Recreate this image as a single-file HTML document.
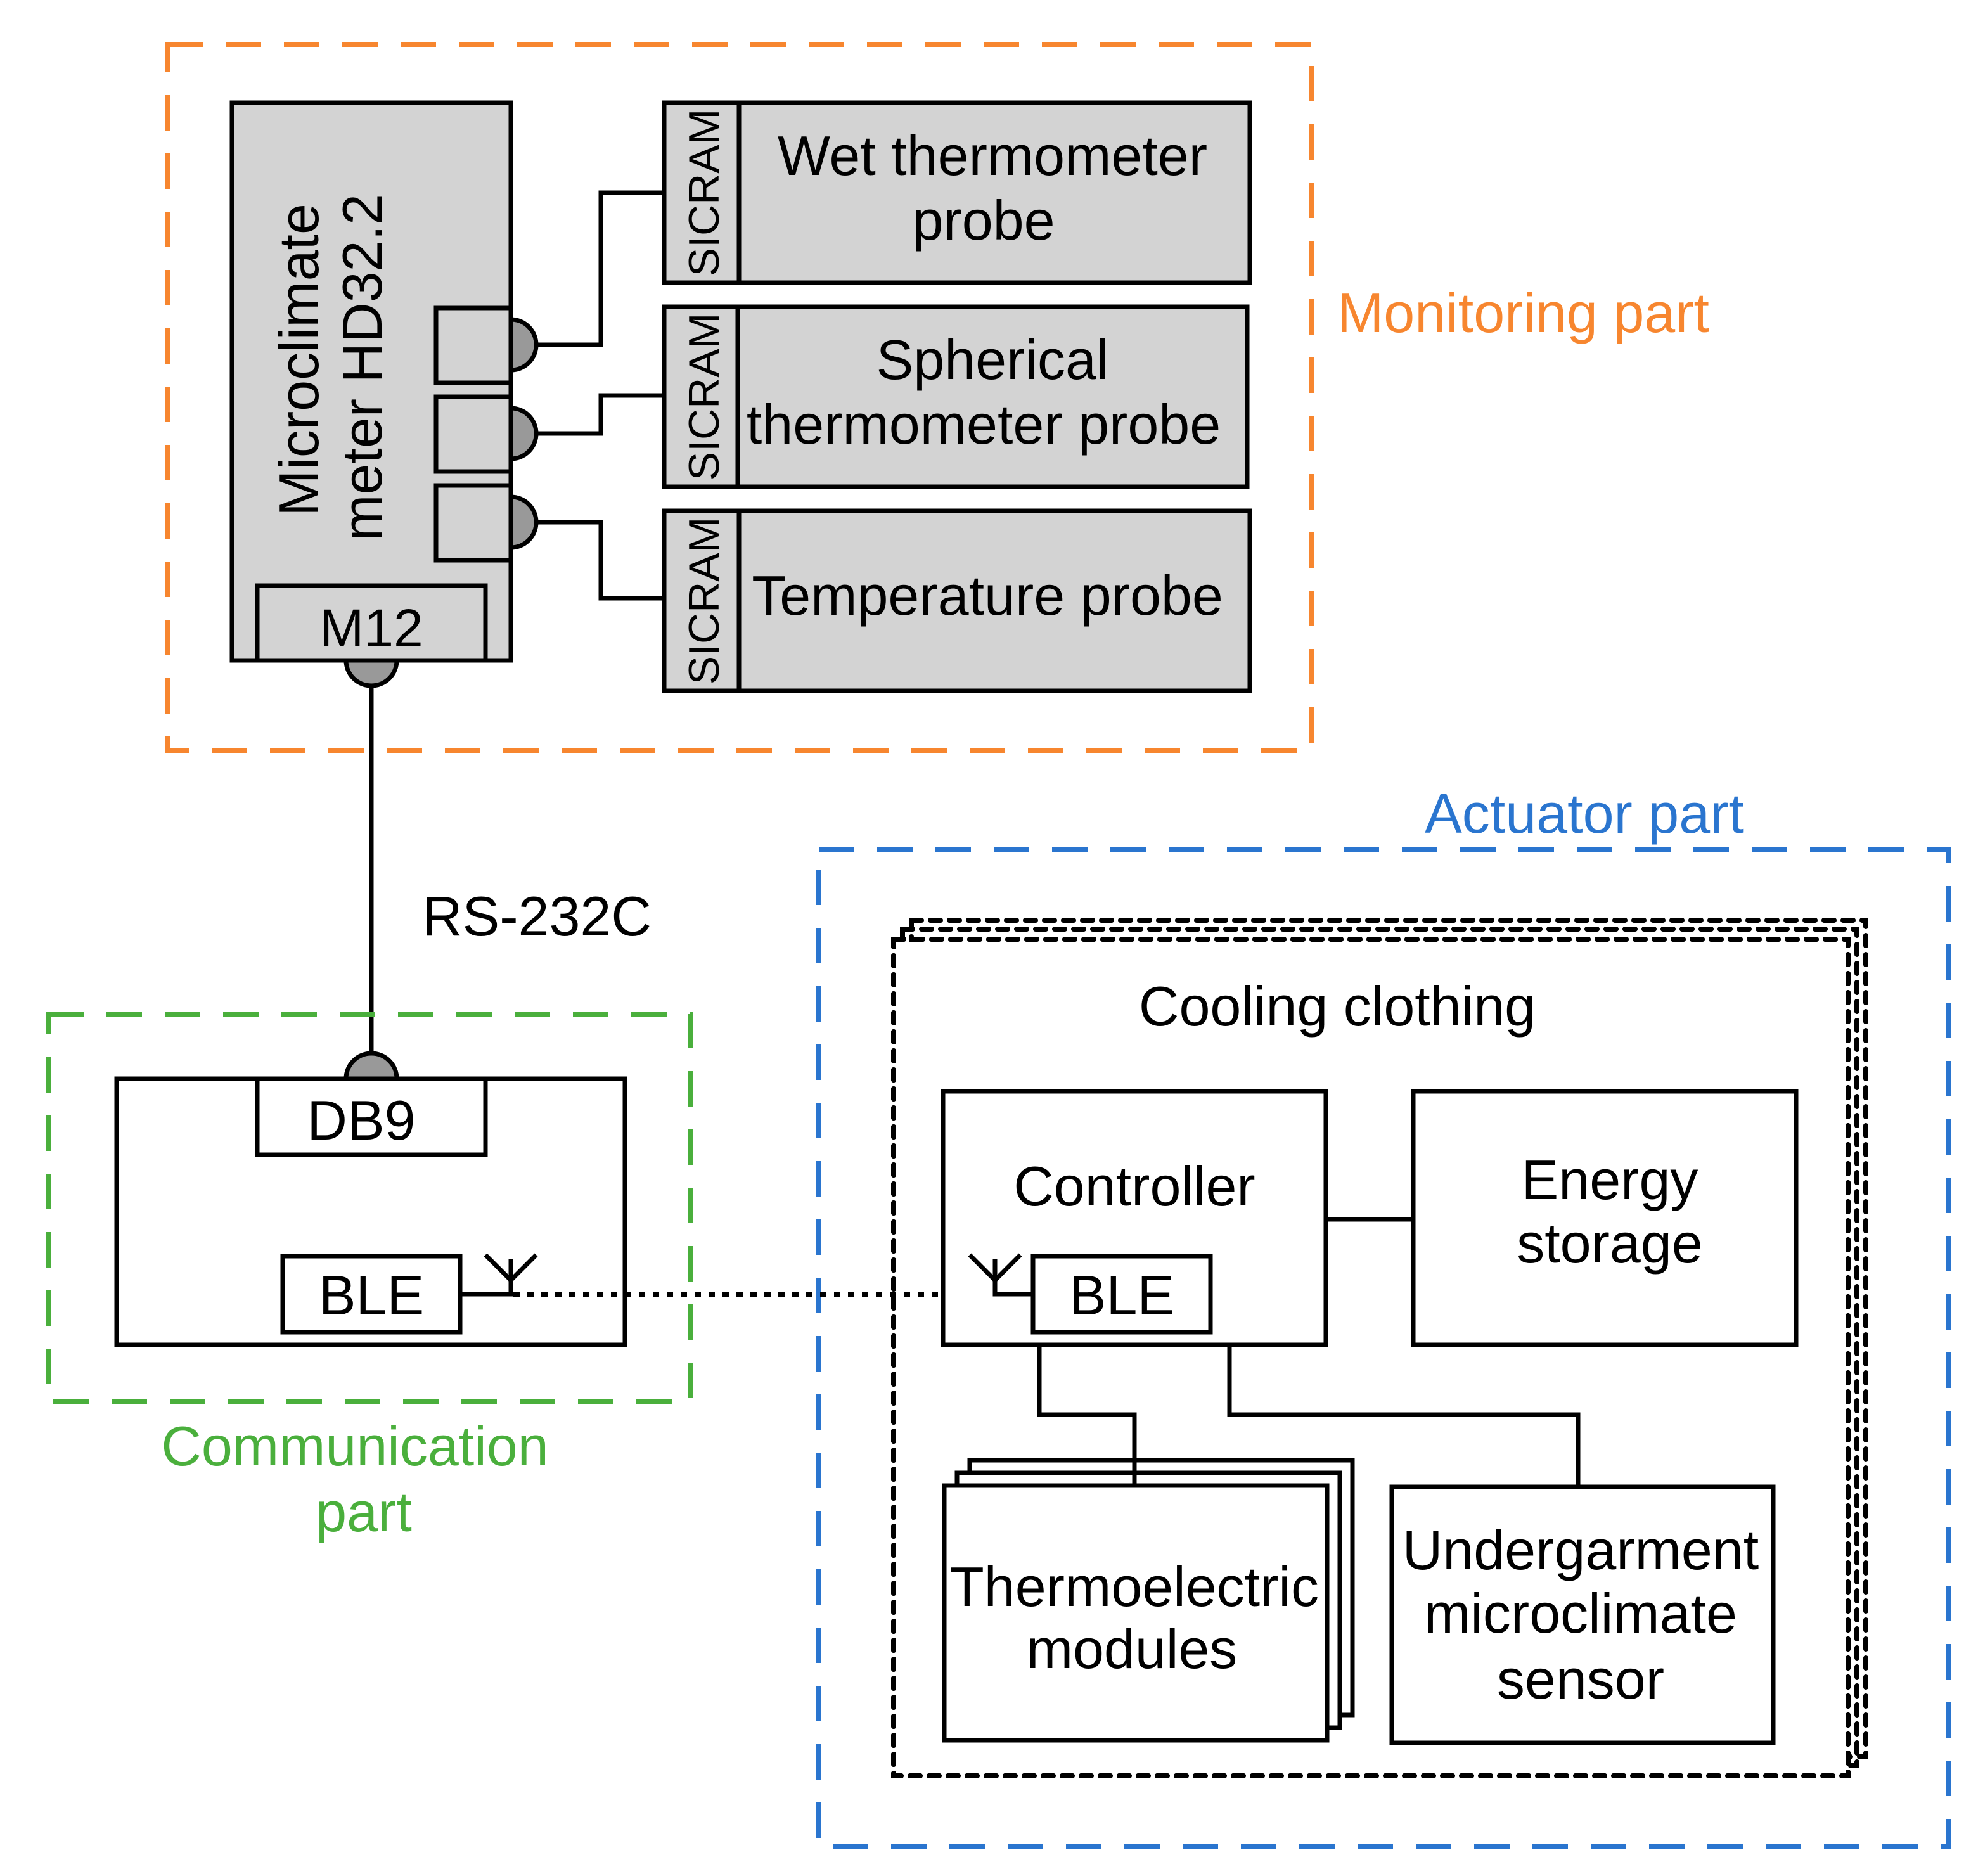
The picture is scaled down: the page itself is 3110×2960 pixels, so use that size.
<!DOCTYPE html>
<html><head><meta charset="utf-8"><style>html,body{margin:0;padding:0;background:#fff}svg{display:block}</style></head>
<body>
<svg width="3110" height="2960" viewBox="0 0 1555 1480" xmlns="http://www.w3.org/2000/svg" font-family="Liberation Sans, Arial, sans-serif">
<rect width="1555" height="1480" fill="#fff"/>
<!-- Monitoring -->
<rect x="132" y="35" width="903" height="557" fill="none" stroke="#F7862F" stroke-width="4" stroke-dasharray="28 18"/>
<text x="1055" y="262" font-size="44" fill="#F7862F">Monitoring part</text>
<g stroke="#000" stroke-width="3.5">
<rect x="183" y="81" width="220" height="440" fill="#d3d3d3"/>
<rect x="344" y="243" width="59" height="59" fill="#d3d3d3"/>
<rect x="344" y="313" width="59" height="59" fill="#d3d3d3"/>
<rect x="344" y="383" width="59" height="59" fill="#d3d3d3"/>
<path d="M403 252 A20 20 0 0 1 403 292Z" fill="#999"/>
<path d="M403 322 A20 20 0 0 1 403 362Z" fill="#999"/>
<path d="M403 392 A20 20 0 0 1 403 432Z" fill="#999"/>
<rect x="203" y="462" width="180" height="59" fill="#d3d3d3"/>
<path d="M273 521 A20 20 0 0 0 313 521Z" fill="#999"/>
<polyline points="423,272 474,272 474,152 524,152" fill="none"/>
<polyline points="423,342 474,342 474,312 524,312" fill="none"/>
<polyline points="423,412 474,412 474,472 524,472" fill="none"/>
<rect x="524" y="81" width="462" height="142" fill="#d3d3d3"/>
<line x1="583" y1="81" x2="583" y2="223"/>
<rect x="524" y="242" width="460" height="142" fill="#d3d3d3"/>
<line x1="582" y1="242" x2="582" y2="384"/>
<rect x="524" y="403" width="462" height="142" fill="#d3d3d3"/>
<line x1="583" y1="403" x2="583" y2="545"/>
<line x1="293" y1="541" x2="293" y2="832"/>
</g>
<g font-size="44" fill="#000">
<text transform="translate(251,284) rotate(-90)" text-anchor="middle">Microclimate</text>
<text transform="translate(301,290) rotate(-90)" text-anchor="middle">meter HD32.2</text>
<text x="293" y="510" text-anchor="middle" font-size="42">M12</text>
<text x="783" y="138" text-anchor="middle">Wet thermometer</text>
<text x="776" y="189" text-anchor="middle">probe</text>
<text x="783" y="299" text-anchor="middle">Spherical</text>
<text x="776" y="350" text-anchor="middle">thermometer probe</text>
<text x="779" y="485" text-anchor="middle">Temperature probe</text>
<text transform="translate(567,152) rotate(-90)" text-anchor="middle" font-size="34">SICRAM</text>
<text transform="translate(567,313) rotate(-90)" text-anchor="middle" font-size="34">SICRAM</text>
<text transform="translate(567,474) rotate(-90)" text-anchor="middle" font-size="34">SICRAM</text>
<text x="333" y="738">RS-232C</text>
</g>
<!-- Communication -->
<rect x="38" y="800" width="507" height="306" fill="none" stroke="#4AAF3C" stroke-width="4" stroke-dasharray="28 18"/>
<g fill="#4AAF3C" font-size="44" text-anchor="middle"><text x="280" y="1156">Communication</text><text x="287" y="1208">part</text></g>
<g stroke="#000" stroke-width="3.5" fill="#fff">
<path d="M273 851 A20 20 0 0 1 313 851Z" fill="#999"/>
<rect x="92" y="851" width="401" height="210"/>
<rect x="203" y="851" width="180" height="60"/>
<rect x="223" y="991" width="140" height="60"/>
<polyline points="363,1021 403,1021 403,993" fill="none"/>
<polyline points="383,990 403,1010 423,990" fill="none"/>
</g>
<g font-size="44" text-anchor="middle"><text x="285" y="899">DB9</text><text x="293" y="1037">BLE</text></g>
<!-- Actuator -->
<rect x="646" y="670" width="891" height="787" fill="none" stroke="#2A75CF" stroke-width="4" stroke-dasharray="28 18"/>
<text x="1250" y="657" font-size="44" fill="#2A75CF" text-anchor="middle">Actuator part</text>
<g fill="none" stroke="#000" stroke-width="4" stroke-dasharray="8 7" stroke-linecap="round">
<rect x="719" y="726" width="753" height="660"/>
<rect x="712" y="733" width="753" height="660"/>
<rect x="705" y="741" width="753" height="660"/>
</g>
<rect x="707" y="743" width="749" height="656" fill="#fff"/>
<path d="M705 741 H1458 V1401 H705 Z" fill="none" stroke="#000" stroke-width="4" stroke-dasharray="8 7" stroke-linecap="round"/>
<line x1="405" y1="1021" x2="783" y2="1021" stroke="#000" stroke-width="4" stroke-dasharray="5 6"/>
<text x="1055" y="809" font-size="44" text-anchor="middle">Cooling clothing</text>
<g stroke="#000" stroke-width="3.5" fill="#fff">
<rect x="744" y="861" width="302" height="200"/>
<rect x="815" y="991" width="140" height="60"/>
<polyline points="815,1021 785,1021 785,993" fill="none"/>
<polyline points="765,990 785,1010 805,990" fill="none"/>
<rect x="1115" y="861" width="302" height="200"/>
<line x1="1046" y1="962" x2="1115" y2="962"/>
<polyline points="820,1061 820,1116 895,1116 895,1170" fill="none"/>
<polyline points="970,1061 970,1116 1245,1116 1245,1173" fill="none"/>
<rect x="765" y="1152" width="302" height="201"/>
<rect x="755" y="1162" width="302" height="201"/>
<rect x="745" y="1172" width="302" height="201"/>
<rect x="1098" y="1173" width="301" height="202"/>
</g>
<line x1="895" y1="1150" x2="895" y2="1172" stroke="#000" stroke-width="3.5"/>
<g font-size="44" text-anchor="middle">
<text x="895" y="951">Controller</text>
<text x="885" y="1037">BLE</text>
<text x="1270" y="946">Energy</text>
<text x="1270" y="996">storage</text>
<text x="895" y="1267">Thermoelectric</text>
<text x="893" y="1316">modules</text>
<text x="1247" y="1238">Undergarment</text>
<text x="1247" y="1288">microclimate</text>
<text x="1247" y="1340">sensor</text>
</g>
</svg>
</body></html>
